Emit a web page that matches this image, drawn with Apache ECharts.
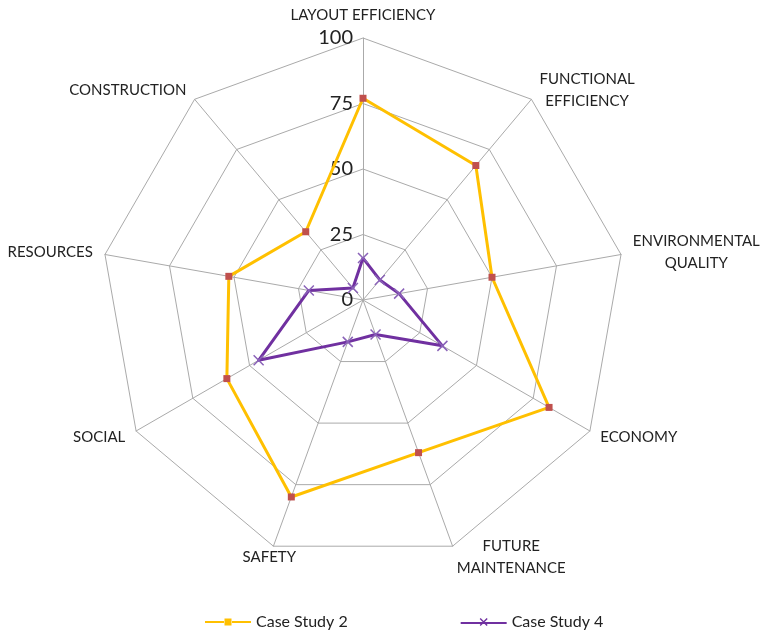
<!DOCTYPE html>
<html>
<head>
<meta charset="utf-8">
<script src="https://cdn.jsdelivr.net/npm/echarts@6/dist/echarts.min.js"></script>
<style>
  html, body { margin: 0; padding: 0; background: #fff; }
  #chart { width: 767px; height: 642px; }
</style>
</head>
<body>
<div id="chart"></div>
<script>
// categories listed clockwise from the top
var categories = ['LAYOUT EFFICIENCY', 'FUNCTIONAL\nEFFICIENCY', 'ENVIRONMENTAL\nQUALITY', 'ECONOMY',
                  'FUTURE\nMAINTENANCE', 'SAFETY', 'SOCIAL', 'RESOURCES', 'CONSTRUCTION'];
var caseStudy2 = [77, 67, 50, 82, 62, 80, 60, 52, 34];
var caseStudy4 = [16, 10, 14, 35, 14, 17, 46, 21, 6];
var axisMax = 100;
var tickStep = 25;

// echarts radar runs counter-clockwise, so keep the first item and reverse the rest
function clockwise(arr) {
    return [arr[0]].concat(arr.slice(1).reverse());
}

var nameFont = '15px Lato';
var ctx = document.createElement('canvas').getContext('2d');
ctx.font = nameFont;

// rich styles so that two-line names get centred lines
var rich = {};
categories.forEach(function (name, i) {
    var w = 0;
    name.split('\n').forEach(function (line) {
        w = Math.max(w, Math.ceil(ctx.measureText(line).width));
    });
    rich['n' + i] = { width: w, align: 'center', fontSize: 15, fontFamily: 'Lato', color: '#222', lineHeight: 22 };
});

var myChart = echarts.init(document.getElementById('chart'));

var indicators = clockwise(categories.map(function (name, i) {
    var ind = { name: name, min: 0, max: axisMax, key: i };
    if (i === 0) {
        ind.axisLabel = { show: true };
    }
    if (name === 'SAFETY') {
        ind.nameTextStyle = { align: 'center' };
    }
    return ind;
}));

var crossPath = 'path://M0,0L10,10M10,0L0,10';
var iconSquare = 'path://M0,4H19V6H0Z M19.5,1.5H26.5V8.5H19.5Z M27,4H46V6H27Z';
var iconCross = 'path://M0,4H46V6H0Z M19,1L20,0L27,7L26,8Z M26,0L27,1L20,8L19,7Z';

option = {
    backgroundColor: '#fff',
    textStyle: { fontFamily: 'Lato' },
    legend: {
        bottom: 7,
        left: 200,
        itemGap: 113,
        itemWidth: 46,
        itemHeight: 10,
        textStyle: { fontSize: 16, color: '#222', fontFamily: 'Lato' },
        data: [
            { name: 'Case Study 2', icon: iconSquare, itemStyle: { color: '#FFC000' } },
            { name: 'Case Study 4', icon: iconCross, itemStyle: { color: '#7030A0', borderWidth: 0 } }
        ]
    },
    radar: {
        center: [363, 300],
        radius: 262,
        startAngle: 90,
        shape: 'polygon',
        splitNumber: axisMax / tickStep,
        nameGap: 12,
        axisName: {
            color: '#222', fontSize: 15, fontFamily: 'Lato', lineHeight: 22,
            formatter: function (name, ind) {
                var key = 'n' + ind.key;
                return name.split('\n').map(function (line) {
                    return '{' + key + '|' + line + '}';
                }).join('\n');
            },
            rich: rich
        },
        axisLine: { lineStyle: { color: '#aaa', width: 1 } },
        splitLine: { lineStyle: { color: '#aaa', width: 1 } },
        splitArea: { show: false },
        axisTick: { show: false },
        axisLabel: {
            show: false,
            fontSize: 20,
            color: '#222',
            fontFamily: 'Lato',
            margin: 10
        },
        indicator: indicators
    },
    series: [
        {
            type: 'radar',
            z: 3,
            data: [
                {
                    name: 'Case Study 2',
                    value: clockwise(caseStudy2),
                    symbol: 'rect',
                    symbolSize: 7,
                    lineStyle: { color: '#FFC000', width: 3 },
                    itemStyle: { color: '#C0504D' }
                }
            ]
        },
        {
            type: 'radar',
            z: 4,
            data: [
                {
                    name: 'Case Study 4',
                    value: clockwise(caseStudy4),
                    symbol: crossPath,
                    symbolSize: 10,
                    lineStyle: { color: '#7030A0', width: 3 },
                    itemStyle: { color: 'rgba(0,0,0,0)', borderColor: '#8a62b8', borderWidth: 1.5 }
                }
            ]
        }
    ]
};
myChart.setOption(option);
</script>
</body>
</html>
